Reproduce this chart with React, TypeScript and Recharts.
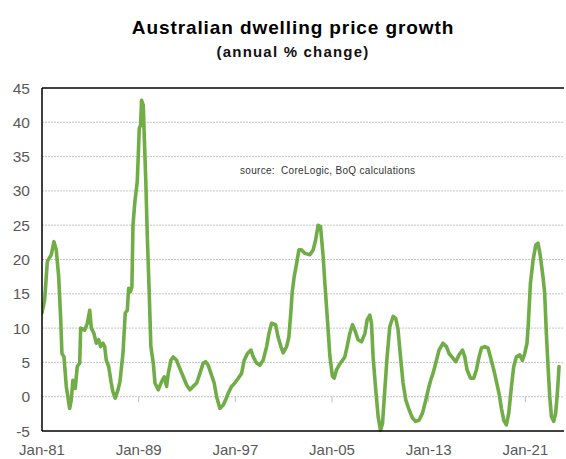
import React from "react";
import { LineChart, Line, XAxis, YAxis, CartesianGrid, ReferenceLine } from "recharts";

// decimal year of each reading
const dates: number[] = [
  1981.0, 1981.22, 1981.44, 1981.77, 1981.99, 1982.18, 1982.38, 1982.55, 1982.65, 1982.82,
  1983.01, 1983.29, 1983.42, 1983.56, 1983.75, 1983.92, 1984.12, 1984.2, 1984.53, 1984.75,
  1984.95, 1985.08, 1985.3, 1985.49, 1985.69, 1985.86, 1986.05, 1986.19, 1986.32, 1986.52,
  1986.73, 1986.87, 1987.06, 1987.29, 1987.45, 1987.7, 1987.89, 1988.06, 1988.17, 1988.32,
  1988.44, 1988.53, 1988.69, 1988.88, 1988.96, 1989.05, 1989.16, 1989.24, 1989.38, 1989.46,
  1989.6, 1989.71, 1989.87, 1990.01, 1990.21, 1990.35, 1990.62, 1990.9, 1991.12, 1991.31,
  1991.45, 1991.67, 1991.86, 1992.14, 1992.41, 1992.69, 1992.97, 1993.24, 1993.51, 1993.8,
  1994.07, 1994.34, 1994.54, 1994.75, 1994.98, 1995.25, 1995.45, 1995.72, 1996.0, 1996.19,
  1996.41, 1996.69, 1996.96, 1997.24, 1997.52, 1997.73, 1998.01, 1998.29, 1998.48, 1998.76,
  1999.03, 1999.3, 1999.59, 1999.78, 2000.0, 2000.33, 2000.54, 2000.77, 2000.96, 2001.24,
  2001.43, 2001.59, 2001.7, 2001.87, 2002.07, 2002.26, 2002.48, 2002.75, 2003.17, 2003.44,
  2003.64, 2003.85, 2004.05, 2004.27, 2004.41, 2004.63, 2004.82, 2005.03, 2005.18, 2005.37,
  2005.65, 2005.79, 2006.06, 2006.25, 2006.47, 2006.7, 2006.89, 2007.16, 2007.44, 2007.72,
  2007.91, 2008.13, 2008.27, 2008.4, 2008.62, 2008.82, 2009.01, 2009.18, 2009.37, 2009.56,
  2009.78, 2010.06, 2010.28, 2010.47, 2010.67, 2010.88, 2011.11, 2011.38, 2011.66, 2011.93,
  2012.21, 2012.49, 2012.76, 2013.03, 2013.17, 2013.36, 2013.59, 2013.86, 2014.19, 2014.47,
  2014.69, 2015.02, 2015.24, 2015.51, 2015.8, 2015.99, 2016.18, 2016.46, 2016.73, 2016.95,
  2017.17, 2017.37, 2017.64, 2017.91, 2018.11, 2018.39, 2018.61, 2018.82, 2019.02, 2019.21,
  2019.43, 2019.63, 2019.85, 2020.04, 2020.26, 2020.54, 2020.76, 2020.95, 2021.14, 2021.25,
  2021.42, 2021.64, 2021.86, 2022.05, 2022.25, 2022.46, 2022.6, 2022.74, 2022.88, 2023.02,
  2023.16, 2023.35, 2023.51, 2023.65, 2023.79,
];

// annual % change
const growth: number[] = [
  12.2, 14.1, 19.7, 20.7, 22.6, 21.4, 17.5, 11.2, 6.3, 5.8,
  1.5, -1.7, -0.5, 2.4, 1.2, 4.4, 4.9, 10.0, 9.7, 10.7,
  12.6, 10.0, 9.2, 7.8, 8.3, 7.3, 7.8, 7.3, 5.3, 4.4,
  2.0, 0.7, -0.2, 1.0, 2.2, 6.3, 12.2, 12.6, 15.8, 15.3,
  16.0, 25.0, 28.5, 31.3, 34.8, 39.1, 39.6, 43.2, 42.5, 38.1,
  30.9, 23.6, 15.3, 7.3, 4.9, 2.0, 1.0, 2.2, 2.9, 1.5,
  3.4, 5.3, 5.8, 5.3, 4.1, 2.9, 1.7, 1.0, 1.5, 2.0,
  3.4, 4.9, 5.1, 4.6, 3.4, 2.0, 0.0, -1.7, -1.2, -0.5,
  0.5, 1.5, 2.0, 2.7, 3.4, 5.3, 6.3, 6.8, 5.8, 4.9,
  4.6, 5.3, 7.3, 9.2, 10.7, 10.5, 8.7, 7.3, 6.4, 7.3,
  8.7, 12.2, 15.1, 17.5, 19.4, 21.4, 21.4, 20.9, 20.7, 21.4,
  22.8, 25.0, 24.8, 20.4, 16.5, 11.0, 6.0, 3.0, 2.7, 3.9,
  4.8, 5.1, 5.8, 7.3, 9.2, 10.5, 9.7, 8.3, 8.0, 9.2,
  11.2, 11.9, 10.7, 5.8, 1.0, -2.9, -4.9, -3.9, 1.0, 5.8,
  10.2, 11.7, 11.4, 9.7, 5.8, 2.0, -0.5, -1.9, -3.1, -3.6,
  -3.4, -2.4, -0.5, 1.5, 2.4, 3.4, 4.9, 6.8, 7.8, 7.3,
  6.3, 5.6, 5.1, 6.1, 6.8, 5.8, 3.9, 2.7, 2.7, 3.9,
  5.8, 7.1, 7.3, 7.1, 5.8, 3.9, 2.2, 0.5, -1.7, -3.4,
  -4.1, -2.4, 1.5, 4.4, 5.8, 6.1, 5.3, 6.3, 7.8, 10.7,
  16.5, 19.9, 22.1, 22.4, 20.4, 17.5, 15.1, 9.2, 4.4, 0.0,
  -2.9, -3.6, -2.4, 0.5, 4.4,
];

const xTicks: number[] = [1981, 1989, 1997, 2005, 2013, 2021];
const yTicks: number[] = [-5, 0, 5, 10, 15, 20, 25, 30, 35, 40, 45];
const gridLines: number[] = [0, 5, 10, 15, 20, 25, 30, 35, 40];

const title = "Australian dwelling price growth";
const subtitle = "(annual % change)";
const sourceNote = "source:  CoreLogic, BoQ calculations";

const data = dates.map((t, i) => ({ t, v: growth[i] }));

const fmtX = (v: number) => `Jan-${String(Math.round(v) % 100).padStart(2, "0")}`;

const FONT = "'Liberation Sans', Arial, sans-serif";

export default function App() {
  return (
    <div
      style={{
        position: "absolute",
        left: 0,
        top: 0,
        width: 566,
        height: 459,
        background: "#fff",
        fontFamily: FONT,
      }}
    >
      <div
        style={{
          position: "absolute",
          left: 0,
          width: 586,
          top: 16,
          textAlign: "center",
          fontSize: 19,
          letterSpacing: 0.9,
          fontWeight: "bold",
          color: "#000",
          lineHeight: "24px",
        }}
      >
        {title}
      </div>
      <div
        style={{
          position: "absolute",
          left: 0,
          width: 586,
          top: 43,
          textAlign: "center",
          fontSize: 15,
          letterSpacing: 1.2,
          fontWeight: "bold",
          color: "#111",
          lineHeight: "18px",
        }}
      >
        {subtitle}
      </div>
      <LineChart
        width={566}
        height={459}
        data={data}
        margin={{ top: 88, right: 2, bottom: 0, left: 8 }}
      >
        <CartesianGrid
          horizontal
          vertical={false}
          stroke="#c6c6c6"
          strokeDasharray="2 1"
          horizontalValues={gridLines}
        />
        <XAxis
          dataKey="t"
          type="number"
          domain={[1981, 2024.2]}
          ticks={xTicks}
          tickFormatter={fmtX}
          allowDataOverflow
          height={28}
          tickLine={false}
          tickSize={6}
          tickMargin={7}
          axisLine={{ stroke: "#000", strokeWidth: 1.5 }}
          tick={{ fill: "#595959", fontSize: 15, fontFamily: FONT }}
        />
        <YAxis
          type="number"
          domain={[-5, 45]}
          ticks={yTicks}
          width={34}
          interval={0}
          tickLine={false}
          tickSize={6}
          tickMargin={6}
          axisLine={{ stroke: "#000", strokeWidth: 1.5 }}
          tick={{ fill: "#595959", fontSize: 15.5, fontFamily: FONT }}
        />
        <ReferenceLine y={45} stroke="#000" strokeWidth={1.5} />
        {xTicks.slice(1).map((t) => (
          <ReferenceLine
            key={t}
            segment={[
              { x: t, y: 0 },
              { x: t, y: -0.8 },
            ]}
            stroke="#bfbfbf"
            strokeWidth={1}
          />
        ))}
        <Line
          type="linear"
          dataKey="v"
          stroke="#70AD47"
          strokeWidth={3.6}
          dot={false}
          strokeLinejoin="round"
          strokeLinecap="round"
          isAnimationActive={false}
        />
      </LineChart>
      <div
        style={{
          position: "absolute",
          left: 240,
          top: 165,
          fontSize: 10,
          letterSpacing: 0.3,
          color: "#333",
          whiteSpace: "pre",
          lineHeight: "12px",
        }}
      >
        {sourceNote}
      </div>
    </div>
  );
}
